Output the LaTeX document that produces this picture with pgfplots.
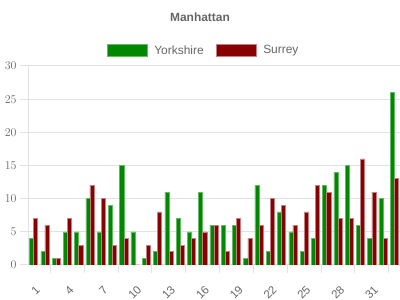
\documentclass[border=0pt]{standalone}
\usepackage{pgfplots}
\pgfplotsset{compat=1.18}
\usepackage{fontspec}
\setmainfont{Liberation Sans}
\definecolor{txt}{HTML}{666666}
\definecolor{grd}{HTML}{E2E2E2}
\definecolor{yk}{HTML}{008800}
\definecolor{sr}{HTML}{880000}
\begin{document}
\begin{tikzpicture}[x=1bp,y=1bp]
\useasboundingbox (0,0) rectangle (400,300);
\node[font=\bfseries\fontsize{12}{14}\selectfont, text=txt] at (200,283) {Manhattan};
\begin{axis}[
  at={(28bp,35bp)}, anchor=south west,
  scale only axis, width=372bp, height=199bp,
  ymin=0, ymax=30, ytick={0,5,...,30},
  xmin=-0.5, xmax=32.5,
  ybar=0pt, bar width=4.1bp,
  axis lines=left, axis line style={draw=grd, line width=1bp, -},
  ymajorgrids, grid style={draw=grd, line width=1bp},
  tick align=outside, major tick length=8bp, minor tick length=8bp,
  ytick style={draw=grd, line width=1bp},
  xtick={0,3,...,30},
  xticklabels={1,4,7,10,13,16,19,22,25,28,31},
  minor xtick={1.5,4.5,...,31.5},
  major x tick style={draw=none},
  minor x tick style={draw=grd, line width=1bp},
  xticklabel style={rotate=45, anchor=north east, font=\fontsize{11.5}{14}\selectfont, text=txt, xshift=-4bp, yshift=-6bp},
  yticklabel style={font=\fontsize{12}{14}\selectfont, text=txt},
  legend columns=2,
  legend style={draw=none, fill=none, at={(0.472,1.078)}, anchor=center,
    font=\fontsize{12}{14}\selectfont, text=txt,
    /tikz/every odd column/.append style={column sep=5bp},
    /tikz/every even column/.append style={column sep=10bp}},
  legend image code/.code={\draw[#1] (0bp,-6bp) rectangle (40bp,6bp);},
]
\addplot[fill=yk, draw=yk!60!white, line width=0.6bp] coordinates {
(0,4) (1,2) (2,1) (3,5) (4,5) (5,10) (6,5) (7,9) (8,15) (9,5) (10,1)
(11,2) (12,11) (13,7) (14,5) (15,11) (16,6) (17,6) (18,6) (19,1) (20,12)
(21,2) (22,8) (23,5) (24,2) (25,4) (26,12) (27,14) (28,15) (29,6) (30,4) (31,10) (32,26)};
\addplot[fill=sr, draw=sr!50!white, line width=0.6bp] coordinates {
(0,7) (1,6) (2,1) (3,7) (4,3) (5,12) (6,10) (7,3) (8,4) (9,0) (10,3)
(11,8) (12,2) (13,3) (14,4) (15,5) (16,6) (17,2) (18,7) (19,4) (20,6)
(21,10) (22,9) (23,6) (24,8) (25,12) (26,11) (27,7) (28,7) (29,16) (30,11) (31,4) (32,13)};
\legend{Yorkshire, Surrey}
\end{axis}
\end{tikzpicture}
\end{document}
